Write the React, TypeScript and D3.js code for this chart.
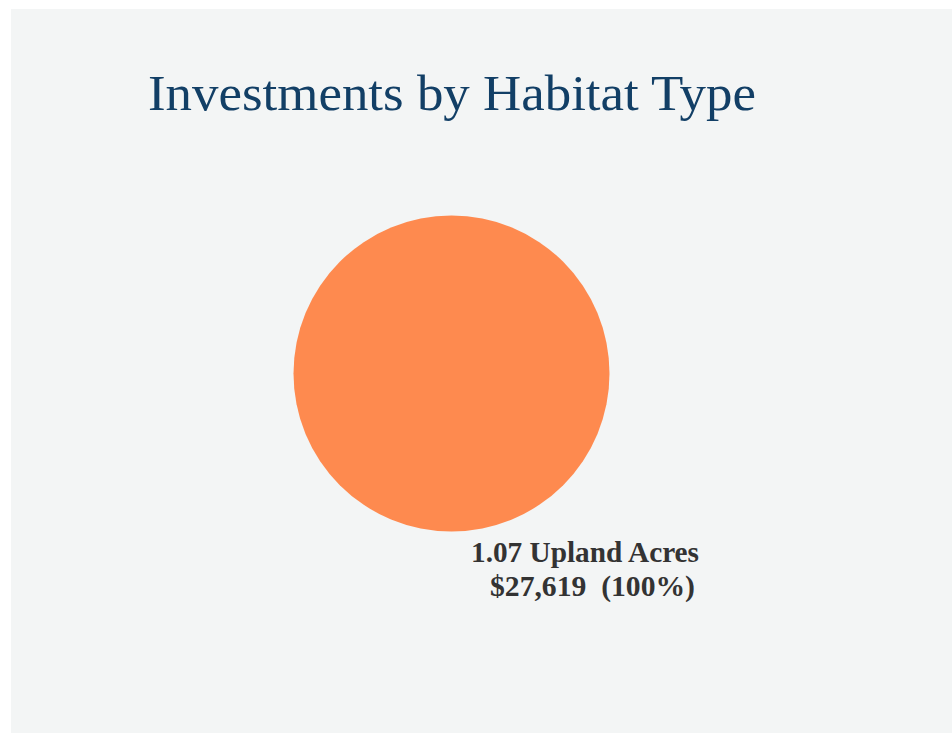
import React from "react";
import * as d3 from "d3";

const categories = ["Upland"];
const acres = [1.07];
const investments = [27619];
const colors = ["#fe8a4f"];
const title = "Investments by Habitat Type";

export default function App() {
  const W = 952, H = 733;
  const cx = 451.5, cy = 373.5, r = 158;
  const total = d3.sum(investments);
  const pie = d3.pie<number>().sort(null).value((d) => d)(investments);
  const arc = d3.arc<d3.PieArcDatum<number>>().innerRadius(0).outerRadius(r);
  const fmt = d3.format(",");
  return (
    <svg width={W} height={H} style={{ position: "absolute", left: 0, top: 0 }}>
      <rect x={0} y={0} width={W} height={H} fill="#ffffff" />
      <rect x={11} y={9} width={W - 11} height={H - 9} fill="#f3f5f5" />
      <text x={148} y={110} fontFamily="'Liberation Serif', serif" fontSize={50} fill="#123f66" textLength={608} lengthAdjust="spacingAndGlyphs">
        {title}
      </text>
      <g transform={`translate(${cx},${cy})`}>
        {pie.map((p, i) => (
          <path key={categories[i]} d={arc(p) || ""} fill={colors[i]} />
        ))}
      </g>
      {pie.map((p, i) => (
        <g key={"l" + i} fontFamily="'Liberation Serif', serif" fontWeight="bold" fontSize={29} fill="#333333">
          <text x={585} y={562} textAnchor="middle" textLength={228} lengthAdjust="spacingAndGlyphs">{`${acres[i]} ${categories[i]} Acres`}</text>
          <text x={592.5} y={596} textAnchor="middle" style={{ whiteSpace: "pre" }} textLength={205} lengthAdjust="spacingAndGlyphs">
            {`$${fmt(investments[i])}  (${Math.round((investments[i] / total) * 100)}%)`}
          </text>
        </g>
      ))}
    </svg>
  );
}
